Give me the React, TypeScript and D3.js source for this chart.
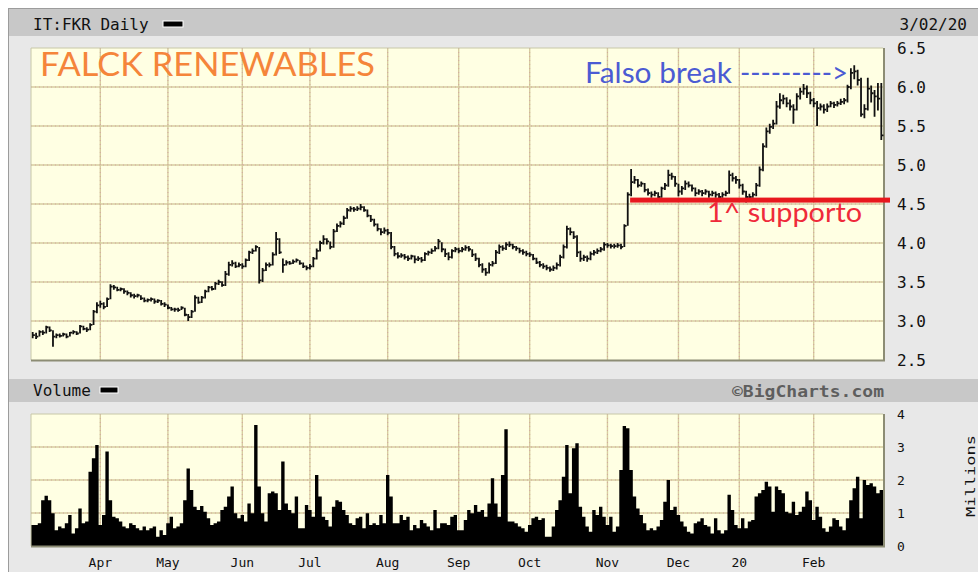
import * as d3 from 'd3';

// daily closes, highs, lows (EUR), one per trading day, 4 Mar 2019 .. 2 Mar 2020
const closes = [
  // Mar
  2.82, 2.80, 2.86, 2.85, 2.92, 2.88, 2.80, 2.82, 2.81, 2.83, 2.80, 2.85, 2.86, 2.84, 2.93, 2.90, 2.89, 2.95, 3.12, 3.20,
  // Apr
  3.22, 3.18, 3.28, 3.44, 3.43, 3.40, 3.41, 3.38, 3.36, 3.33, 3.32, 3.33, 3.29, 3.26, 3.27, 3.28, 3.25, 3.26, 3.22, 3.21,
  // May
  3.17, 3.15, 3.15, 3.14, 3.17, 3.08, 3.05, 3.12, 3.30, 3.24, 3.30, 3.38, 3.43, 3.41, 3.48, 3.50, 3.46, 3.60, 3.72, 3.74, 3.70, 3.72,
  // Jun
  3.70, 3.78, 3.88, 3.90, 3.95, 3.52, 3.65, 3.72, 3.72, 3.85, 4.05, 3.88, 3.72, 3.75, 3.74, 3.76, 3.78, 3.74, 3.70, 3.68,
  // Jul
  3.70, 3.80, 3.90, 4.00, 4.05, 4.02, 3.95, 4.15, 4.22, 4.25, 4.32, 4.42, 4.44, 4.43, 4.44, 4.46, 4.42, 4.35, 4.30, 4.24, 4.18, 4.14, 4.16,
  // Aug
  4.13, 3.95, 3.86, 3.83, 3.84, 3.82, 3.80, 3.83, 3.79, 3.80, 3.78, 3.86, 3.88, 3.90, 3.93, 4.02, 3.92, 3.86, 3.82, 3.90, 3.92,
  // Sep
  3.90, 3.92, 3.94, 3.92, 3.85, 3.80, 3.72, 3.66, 3.62, 3.72, 3.74, 3.88, 3.95, 3.93, 3.98, 3.98, 3.95, 3.93, 3.90, 3.88, 3.86,
  // Oct
  3.85, 3.80, 3.75, 3.72, 3.70, 3.68, 3.66, 3.68, 3.72, 3.82, 3.95, 4.18, 4.14, 4.08, 3.88, 3.80, 3.82, 3.80, 3.86, 3.88, 3.90, 3.92, 3.98,
  // Nov
  3.97, 3.96, 3.96, 3.97, 3.95, 4.22, 4.62, 4.78, 4.81, 4.74, 4.76, 4.68, 4.64, 4.62, 4.64, 4.59, 4.70, 4.74, 4.87, 4.85, 4.76,
  // Dec
  4.66, 4.70, 4.76, 4.74, 4.70, 4.64, 4.66, 4.64, 4.66, 4.62, 4.64, 4.62, 4.59, 4.62, 4.64, 4.87, 4.83, 4.81,
  // Jan
  4.74, 4.66, 4.59, 4.59, 4.62, 4.74, 4.94, 5.24, 5.43, 5.49, 5.53, 5.75, 5.83, 5.85, 5.79, 5.75, 5.71, 5.88, 5.94, 5.98, 5.92, 5.83,
  // Feb + 2 Mar
  5.79, 5.73, 5.75, 5.71, 5.75, 5.79, 5.77, 5.79, 5.81, 5.83, 6.00, 6.18, 6.20, 6.09, 5.65, 5.72, 5.98, 5.92, 5.88, 5.85, 5.38,
];

const highs = [
  2.86, 2.85, 2.88, 2.88, 2.94, 2.93, 2.88, 2.84, 2.84, 2.85, 2.84, 2.86, 2.88, 2.87, 2.95, 2.94, 2.92, 2.97, 3.14, 3.24,
  3.26, 3.24, 3.30, 3.47, 3.46, 3.44, 3.43, 3.42, 3.39, 3.37, 3.35, 3.35, 3.33, 3.30, 3.29, 3.30, 3.29, 3.28, 3.27, 3.24,
  3.21, 3.18, 3.17, 3.17, 3.19, 3.17, 3.09, 3.14, 3.33, 3.31, 3.32, 3.40, 3.45, 3.45, 3.50, 3.53, 3.51, 3.64, 3.76, 3.78, 3.76, 3.75,
  3.74, 3.80, 3.90, 3.93, 3.97, 3.95, 3.68, 3.75, 3.75, 3.88, 4.14, 4.06, 3.80, 3.78, 3.77, 3.79, 3.80, 3.78, 3.75, 3.71,
  3.73, 3.82, 3.93, 4.03, 4.10, 4.06, 4.02, 4.18, 4.25, 4.28, 4.35, 4.45, 4.47, 4.46, 4.47, 4.50, 4.47, 4.43, 4.36, 4.31, 4.25, 4.19, 4.20,
  4.18, 4.14, 3.96, 3.88, 3.87, 3.86, 3.84, 3.85, 3.84, 3.83, 3.82, 3.88, 3.90, 3.93, 3.96, 4.05, 4.01, 3.93, 3.88, 3.92, 3.95,
  3.94, 3.95, 3.97, 3.96, 3.92, 3.87, 3.81, 3.74, 3.68, 3.75, 3.77, 3.91, 3.98, 3.97, 4.01, 4.02, 3.99, 3.96, 3.94, 3.92, 3.90,
  3.88, 3.86, 3.81, 3.77, 3.74, 3.72, 3.70, 3.71, 3.75, 3.85, 3.98, 4.22, 4.20, 4.15, 4.10, 3.90, 3.85, 3.84, 3.89, 3.91, 3.93, 3.95, 4.01,
  4.00, 3.99, 3.99, 4.00, 3.99, 4.24, 4.65, 4.95, 4.86, 4.82, 4.79, 4.77, 4.70, 4.66, 4.67, 4.65, 4.72, 4.77, 4.94, 4.90, 4.86,
  4.76, 4.73, 4.80, 4.79, 4.75, 4.71, 4.69, 4.68, 4.69, 4.67, 4.67, 4.66, 4.64, 4.65, 4.67, 4.93, 4.90, 4.86,
  4.82, 4.76, 4.67, 4.63, 4.65, 4.77, 4.98, 5.28, 5.48, 5.53, 5.58, 5.82, 5.92, 5.90, 5.87, 5.84, 5.78, 5.92, 5.99, 6.04, 6.02, 5.94,
  5.86, 5.82, 5.79, 5.78, 5.79, 5.82, 5.81, 5.82, 5.85, 5.86, 6.03, 6.24, 6.28, 6.22, 6.12, 5.78, 6.12, 6.02, 5.96, 6.05, 6.05,
];

const lows = [
  2.78, 2.77, 2.80, 2.82, 2.84, 2.86, 2.67, 2.78, 2.79, 2.80, 2.78, 2.80, 2.83, 2.82, 2.84, 2.88, 2.86, 2.88, 2.95, 3.10,
  3.17, 3.15, 3.18, 3.28, 3.40, 3.38, 3.38, 3.35, 3.33, 3.30, 3.29, 3.30, 3.27, 3.24, 3.24, 3.25, 3.22, 3.23, 3.20, 3.18,
  3.15, 3.13, 3.12, 3.12, 3.14, 3.06, 3.00, 3.04, 3.12, 3.22, 3.23, 3.29, 3.37, 3.39, 3.40, 3.46, 3.44, 3.45, 3.58, 3.70, 3.68, 3.69,
  3.67, 3.69, 3.77, 3.86, 3.89, 3.48, 3.50, 3.64, 3.69, 3.71, 3.84, 3.86, 3.62, 3.71, 3.72, 3.73, 3.75, 3.72, 3.68, 3.65,
  3.66, 3.69, 3.79, 3.89, 3.98, 3.98, 3.92, 3.94, 4.14, 4.20, 4.23, 4.31, 4.40, 4.40, 4.41, 4.42, 4.40, 4.33, 4.27, 4.21, 4.15, 4.10, 4.12,
  4.10, 3.92, 3.83, 3.80, 3.81, 3.79, 3.77, 3.79, 3.74, 3.77, 3.75, 3.77, 3.84, 3.86, 3.89, 3.92, 3.88, 3.82, 3.78, 3.80, 3.88,
  3.87, 3.88, 3.90, 3.89, 3.82, 3.77, 3.69, 3.62, 3.58, 3.61, 3.70, 3.73, 3.86, 3.90, 3.91, 3.95, 3.92, 3.90, 3.87, 3.85, 3.83,
  3.82, 3.78, 3.73, 3.69, 3.67, 3.65, 3.63, 3.64, 3.66, 3.70, 3.80, 3.93, 4.10, 4.05, 3.82, 3.76, 3.77, 3.76, 3.78, 3.84, 3.86, 3.88, 3.90,
  3.94, 3.93, 3.93, 3.94, 3.92, 3.95, 4.22, 4.60, 4.76, 4.71, 4.72, 4.65, 4.61, 4.58, 4.60, 4.56, 4.58, 4.68, 4.72, 4.81, 4.72,
  4.60, 4.62, 4.68, 4.71, 4.66, 4.60, 4.62, 4.60, 4.62, 4.58, 4.60, 4.58, 4.56, 4.58, 4.60, 4.63, 4.79, 4.76,
  4.70, 4.62, 4.52, 4.55, 4.58, 4.60, 4.72, 4.92, 5.22, 5.40, 5.46, 5.52, 5.72, 5.78, 5.74, 5.70, 5.53, 5.70, 5.84, 5.90, 5.86, 5.78,
  5.74, 5.50, 5.70, 5.66, 5.68, 5.74, 5.73, 5.75, 5.77, 5.78, 5.80, 5.97, 6.10, 6.02, 5.62, 5.60, 5.70, 5.80, 5.62, 5.70, 5.32,
];

// daily volume, millions of shares
const volumes = [
  0.64, 0.64, 0.69, 1.39, 1.52, 1.39, 0.99, 0.48, 0.59, 0.54, 0.69, 0.94, 0.38, 0.54, 1.14, 0.69, 0.74, 2.25, 2.66, 3.06,
  0.64, 0.94, 2.86, 1.39, 0.89, 0.84, 0.74, 0.59, 0.54, 0.69, 0.64, 0.54, 0.48, 0.59, 0.48, 0.54, 0.59, 0.28, 0.48, 0.33,
  0.69, 0.89, 0.54, 0.59, 0.69, 1.39, 2.35, 1.70, 1.19, 1.09, 1.21, 1.04, 0.84, 0.64, 0.69, 0.74, 1.09, 1.19, 1.50, 1.80,
  0.99, 0.84, 0.94, 0.74, 1.29, 0.99, 3.67, 1.80, 0.99, 0.74, 1.60, 1.65, 1.60, 1.09, 2.56, 1.29, 1.09, 0.99, 1.50, 0.54,
  0.54, 1.24, 1.09, 0.89, 2.15, 1.50, 0.89, 0.79, 0.59, 1.19, 1.39, 1.34, 1.09, 0.94, 0.69, 0.64, 0.84, 0.89, 0.54, 0.99,
  0.64, 0.69, 0.64, 0.94, 0.69, 2.15, 1.50, 0.69, 0.69, 0.94, 0.79, 0.89, 0.48, 0.64, 0.54, 0.79, 0.69, 0.59, 0.48, 1.09,
  0.54, 0.69, 0.69, 0.64, 0.89, 0.94, 0.48, 0.48, 0.79, 1.09, 0.99, 1.24, 1.04, 1.09, 0.89, 1.29, 2.05, 1.29, 0.89, 2.15,
  3.54, 0.74, 0.74, 0.69, 0.59, 0.54, 0.43, 0.64, 0.84, 0.89, 0.79, 0.84, 0.28, 0.28, 0.59, 1.09, 1.39, 2.10, 3.06, 1.60,
  2.96, 3.11, 1.19, 0.89, 0.59, 0.43, 1.09, 0.94, 1.19, 0.89, 0.64, 0.89, 0.43, 0.59, 2.30, 3.64, 3.57, 2.30, 1.50, 1.14,
  0.94, 0.69, 0.48, 0.54, 0.48, 0.59, 0.79, 1.34, 2.00, 1.09, 1.19, 0.94, 0.74, 0.59, 0.43, 0.38, 0.69, 0.74, 0.84, 0.64,
  0.59, 0.38, 0.84, 0.48, 0.38, 0.48, 1.55, 1.09, 0.64, 0.54, 0.84, 0.54, 0.74, 0.79, 1.50, 1.60, 1.70, 1.95, 1.80, 1.04,
  1.80, 1.70, 1.60, 1.04, 0.99, 1.34, 0.94, 1.04, 1.19, 1.65, 1.39, 0.79, 1.19, 0.89, 0.54, 0.43, 0.59, 0.84, 0.79, 0.59,
  0.48, 0.84, 1.39, 1.75, 2.10, 0.84, 2.00, 1.85, 1.90, 1.80, 1.60, 1.70,
];

const priceTicks = [2.5, 3.0, 3.5, 4.0, 4.5, 5.0, 5.5, 6.0, 6.5];
const volumeTicks = [0, 1, 2, 3, 4];
const monthKeys = ['2019-04', '2019-05', '2019-06', '2019-07', '2019-08', '2019-09', '2019-10', '2019-11', '2019-12', '2020-01', '2020-02'];
const monthLabels = ['Apr', 'May', 'Jun', 'Jul', 'Aug', 'Sep', 'Oct', 'Nov', 'Dec', '20', 'Feb'];
const holidays = ['2019-04-19', '2019-04-22', '2019-05-01', '2019-08-15', '2019-12-24', '2019-12-25', '2019-12-26', '2019-12-31', '2020-01-01'];

const supportLevel = 4.55;
const supportStartDay = 177;

const mono = '"DejaVu Sans Mono", monospace';
const sans = 'Lato, "Open Sans", sans-serif';

// weekdays of Borsa Italiana between first and last bar
function tradingDays() {
  const fmt = d3.timeFormat('%Y-%m-%d');
  return d3.timeDay
    .range(new Date(2019, 2, 4), new Date(2020, 2, 3))
    .filter(d => d.getDay() !== 0 && d.getDay() !== 6 && !holidays.includes(fmt(d)));
}

function App() {
  const days = tradingDays();
  const n = closes.length;
  const left = 31, right = 883;

  const x = d3.scaleBand<number>().domain(d3.range(n)).range([left, right]);
  const bw = x.bandwidth();
  const cx = (i: number) => (x(i) as number) + bw / 2;
  const yP = d3.scaleLinear().domain([2.5, 6.5]).range([360, 48]);
  const yV = d3.scaleLinear().domain([0, 4]).range([546, 414]);

  const monthFmt = d3.timeFormat('%Y-%m');
  const monthX = monthKeys.map(m => cx(days.findIndex(d => monthFmt(d) === m)));

  const barPath = closes.map((c, i) =>
    `M${cx(i)},${yP(highs[i])}V${yP(lows[i])}M${cx(i)},${yP(c)}H${cx(i) + 2.2}`
  ).join('');

  // volume as one stepped black area
  const volPts: [number, number][] = volumes.map((v, i) => [x(i) as number, v]);
  volPts.push([right, volumes[n - 1]]);
  const volArea = d3.area<[number, number]>()
    .x(d => d[0])
    .y0(yV(0))
    .y1(d => yV(d[1]))
    .curve(d3.curveStepAfter)(volPts) as string;

  const grid = (x1: number, y1: number, x2: number, y2: number, k: string) => (
    <g key={k}>
      <line x1={x1} y1={y1} x2={x2} y2={y2} stroke="#d6cd9f" strokeWidth={1.4} />
      <line x1={x1} y1={y1} x2={x2} y2={y2} stroke="#d4a7a0" strokeWidth={1} strokeDasharray="1,3" />
    </g>
  );

  return (
    <svg width={978} height={572} style={{ position: 'absolute', left: 0, top: 0 }}>
      <rect x={0} y={0} width={978} height={572} fill="#fff" />
      <rect x={8.5} y={8.5} width={975} height={570} fill="#e8e8e8" stroke="#9c9c9c" />
      <rect x={9} y={9} width={970} height={27} fill="#c8c8c8" />
      <rect x={9} y={379} width={970} height={23} fill="#c8c8c8" />

      {/* header */}
      <text x={33} y={30} fontFamily={mono} fontSize={16} fill="#111">IT:FKR Daily</text>
      <rect x={163} y={21} width={20} height={6} fill="#000" stroke="#fff" />
      <text x={967} y={30} fontFamily={mono} fontSize={16} fill="#111" textAnchor="end">3/02/20</text>

      {/* price panel */}
      <rect x={left} y={48} width={right - left} height={312} fill="#ffffe3" />
      {priceTicks.slice(1, -1).map(t => grid(left, yP(t), right, yP(t), 'p' + t))}
      {monthX.map((mx, i) => grid(mx, 48, mx, 360, 'pm' + i))}
      <path d={`M${left},360V48H${right}`} fill="none" stroke="#c8c8a8" />
      <path d={`M${left},360.5H${right + 1}V48`} fill="none" stroke="#8c8c74" strokeWidth={2} />
      <path d={barPath} fill="none" stroke="#111" strokeWidth={1.8} />
      {priceTicks.map(t => (
        <text key={t} x={897} y={yP(t) + 6} fontFamily={mono} fontSize={16} fill="#111">{t.toFixed(1)}</text>
      ))}

      {/* annotations */}
      <text x={40} y={76} fontFamily={sans} fontSize={32} fill="#f5853a" textLength={335} lengthAdjust="spacingAndGlyphs">FALCK RENEWABLES</text>
      <text x={585} y={83} fontFamily={sans} fontSize={28} fill="#4b5bd3" textLength={147} lengthAdjust="spacingAndGlyphs">Falso break</text>
      <text x={740} y={83} fontFamily={sans} fontSize={28} fill="#4b5bd3" textLength={108} lengthAdjust="spacingAndGlyphs">---------&gt;</text>
      <rect x={cx(supportStartDay) - 1} y={yP(supportLevel) - 2.5} width={right + 8 - cx(supportStartDay)} height={5} fill="#e8181e" />
      <text x={707} y={222} fontFamily={sans} fontSize={27} fill="#ef2a3a" textLength={155} lengthAdjust="spacingAndGlyphs">1^ supporto</text>

      {/* volume panel */}
      <text x={33} y={396} fontFamily={mono} fontSize={16} fill="#111">Volume</text>
      <rect x={100} y={387} width={18} height={6} fill="#000" stroke="#fff" />
      <text x={884} y={397} fontFamily={mono} fontSize={16} fontWeight="bold" fill="#5e5e5e" textAnchor="end" textLength={152} lengthAdjust="spacingAndGlyphs">©BigCharts.com</text>

      <rect x={left} y={414} width={right - left} height={132} fill="#ffffe3" />
      {volumeTicks.slice(1, -1).map(t => grid(left, yV(t), right, yV(t), 'v' + t))}
      {monthX.map((mx, i) => grid(mx, 414, mx, 546, 'vm' + i))}
      <path d={volArea} fill="#000" />
      <path d={`M${left},546V414H${right}`} fill="none" stroke="#c8c8a8" />
      <path d={`M${left},546.5H${right + 1}V414`} fill="none" stroke="#8c8c74" strokeWidth={2} />
      {volumeTicks.map(t => (
        <text key={t} x={897} y={yV(t) + 5} fontFamily={mono} fontSize={13} fill="#111">{t}</text>
      ))}
      <text transform="translate(975,476) rotate(-90)" fontFamily={mono} fontSize={13} fill="#111" textAnchor="middle" textLength={82} lengthAdjust="spacingAndGlyphs">Millions</text>

      {monthX.map((mx, i) => (
        <text key={i} x={mx} y={567} fontFamily={mono} fontSize={13} fill="#111" textAnchor="middle">{monthLabels[i]}</text>
      ))}
    </svg>
  );
}

export default App;
